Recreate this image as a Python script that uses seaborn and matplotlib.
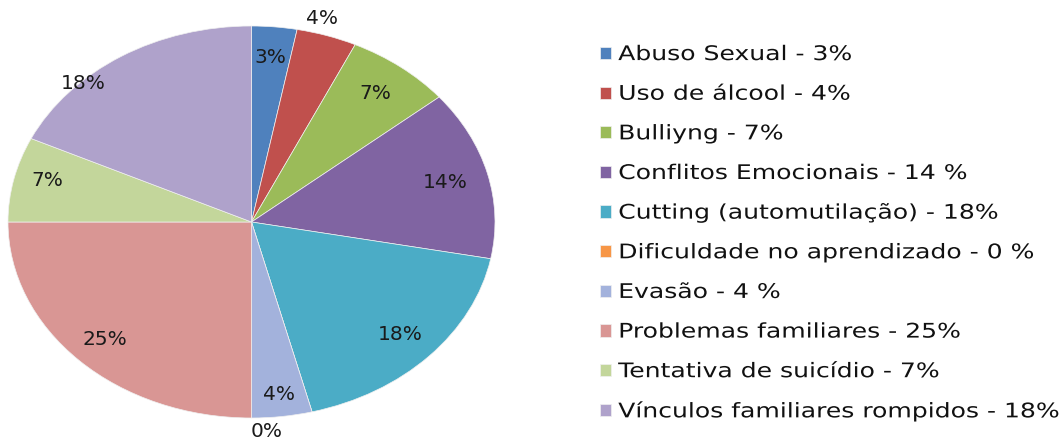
import numpy as np
import matplotlib
matplotlib.use("Agg")
import matplotlib.pyplot as plt
import seaborn as sns
from matplotlib.patheffects import AbstractPathEffect
from matplotlib.transforms import Affine2D

categories = ["Abuso Sexual", "Uso de álcool", "Bulliyng", "Conflitos Emocionais",
              "Cutting (automutilação)", "Dificuldade no aprendizado", "Evasão",
              "Problemas familiares", "Tentativa de suicídio", "Vínculos familiares rompidos"]
values = [3, 4, 7, 14, 18, 0, 4, 25, 7, 18]
legend_labels = ["Abuso Sexual - 3%", "Uso de álcool - 4%", "Bulliyng - 7%",
                 "Conflitos Emocionais - 14 %", "Cutting (automutilação) - 18%",
                 "Dificuldade no aprendizado - 0 %", "Evasão - 4 %",
                 "Problemas familiares - 25%", "Tentativa de suicídio - 7%",
                 "Vínculos familiares rompidos - 18%"]
pct_labels = ["3%", "4%", "7%", "14%", "18%", "0%", "4%", "25%", "7%", "18%"]

colors = ["#4F81BD", "#C0504D", "#9BBB59", "#8064A2", "#4BACC6",
          "#F79646", "#A3B2DC", "#D99694", "#C3D69B", "#AFA2CB"]
# label placement (radius factor, angle offset in degrees) - styling only
label_r = [0.845, 1.08, 0.83, 0.82, 0.84, 1.07, 0.885, 0.85, 0.865, 0.99]
label_dt = [0, 2.5, 0, 0, 0, -11, 0, 0, -1.5, 12]


class HStretch(AbstractPathEffect):
    """Stretch text horizontally about its own origin."""
    def __init__(self, sx):
        super().__init__()
        self.sx = sx

    def draw_path(self, renderer, gc, tpath, affine, rgbFace=None):
        x0 = affine.get_matrix()[0, 2]
        t = affine + Affine2D().translate(-x0, 0).scale(self.sx, 1).translate(x0, 0)
        renderer.draw_path(gc, tpath, t, rgbFace)


sns.set_style("white")
plt.rcParams["font.family"] = ["DejaVu Sans"]

fig = plt.figure(figsize=(10.64, 4.44), dpi=100)
W, H = 1064, 444
ax = fig.add_axes([8 / W, 1 - 418 / H, 487 / W, 392 / H])

wedges, _ = ax.pie(values, colors=sns.color_palette(colors), startangle=90,
                   counterclock=False, radius=1,
                   wedgeprops=dict(linewidth=0.5, edgecolor="#f0f0f0"))
ax.set_aspect("auto")
ax.set_xlim(-1, 1)
ax.set_ylim(-1, 1)
ax.axis("off")

for w, lab, r, dt in zip(wedges, pct_labels, label_r, label_dt):
    th = np.deg2rad((w.theta1 + w.theta2) / 2 + dt)
    ax.text(r * np.cos(th), r * np.sin(th), lab, ha="center", va="center",
            fontsize=14.5, color="#1a1a1a", clip_on=False)

leg = fig.legend(wedges, legend_labels, loc="upper left",
                 bbox_to_anchor=(590 / W, 1 - 35 / H), frameon=False,
                 fontsize=14.5, handlelength=0.55, handleheight=0.55,
                 handletextpad=0.35, labelspacing=1.025, borderpad=0)
for t in leg.get_texts():
    t.set_color("#111111")
    t.set_path_effects([HStretch(1.245)])

fig.savefig("out.png", dpi=100, facecolor="white")
